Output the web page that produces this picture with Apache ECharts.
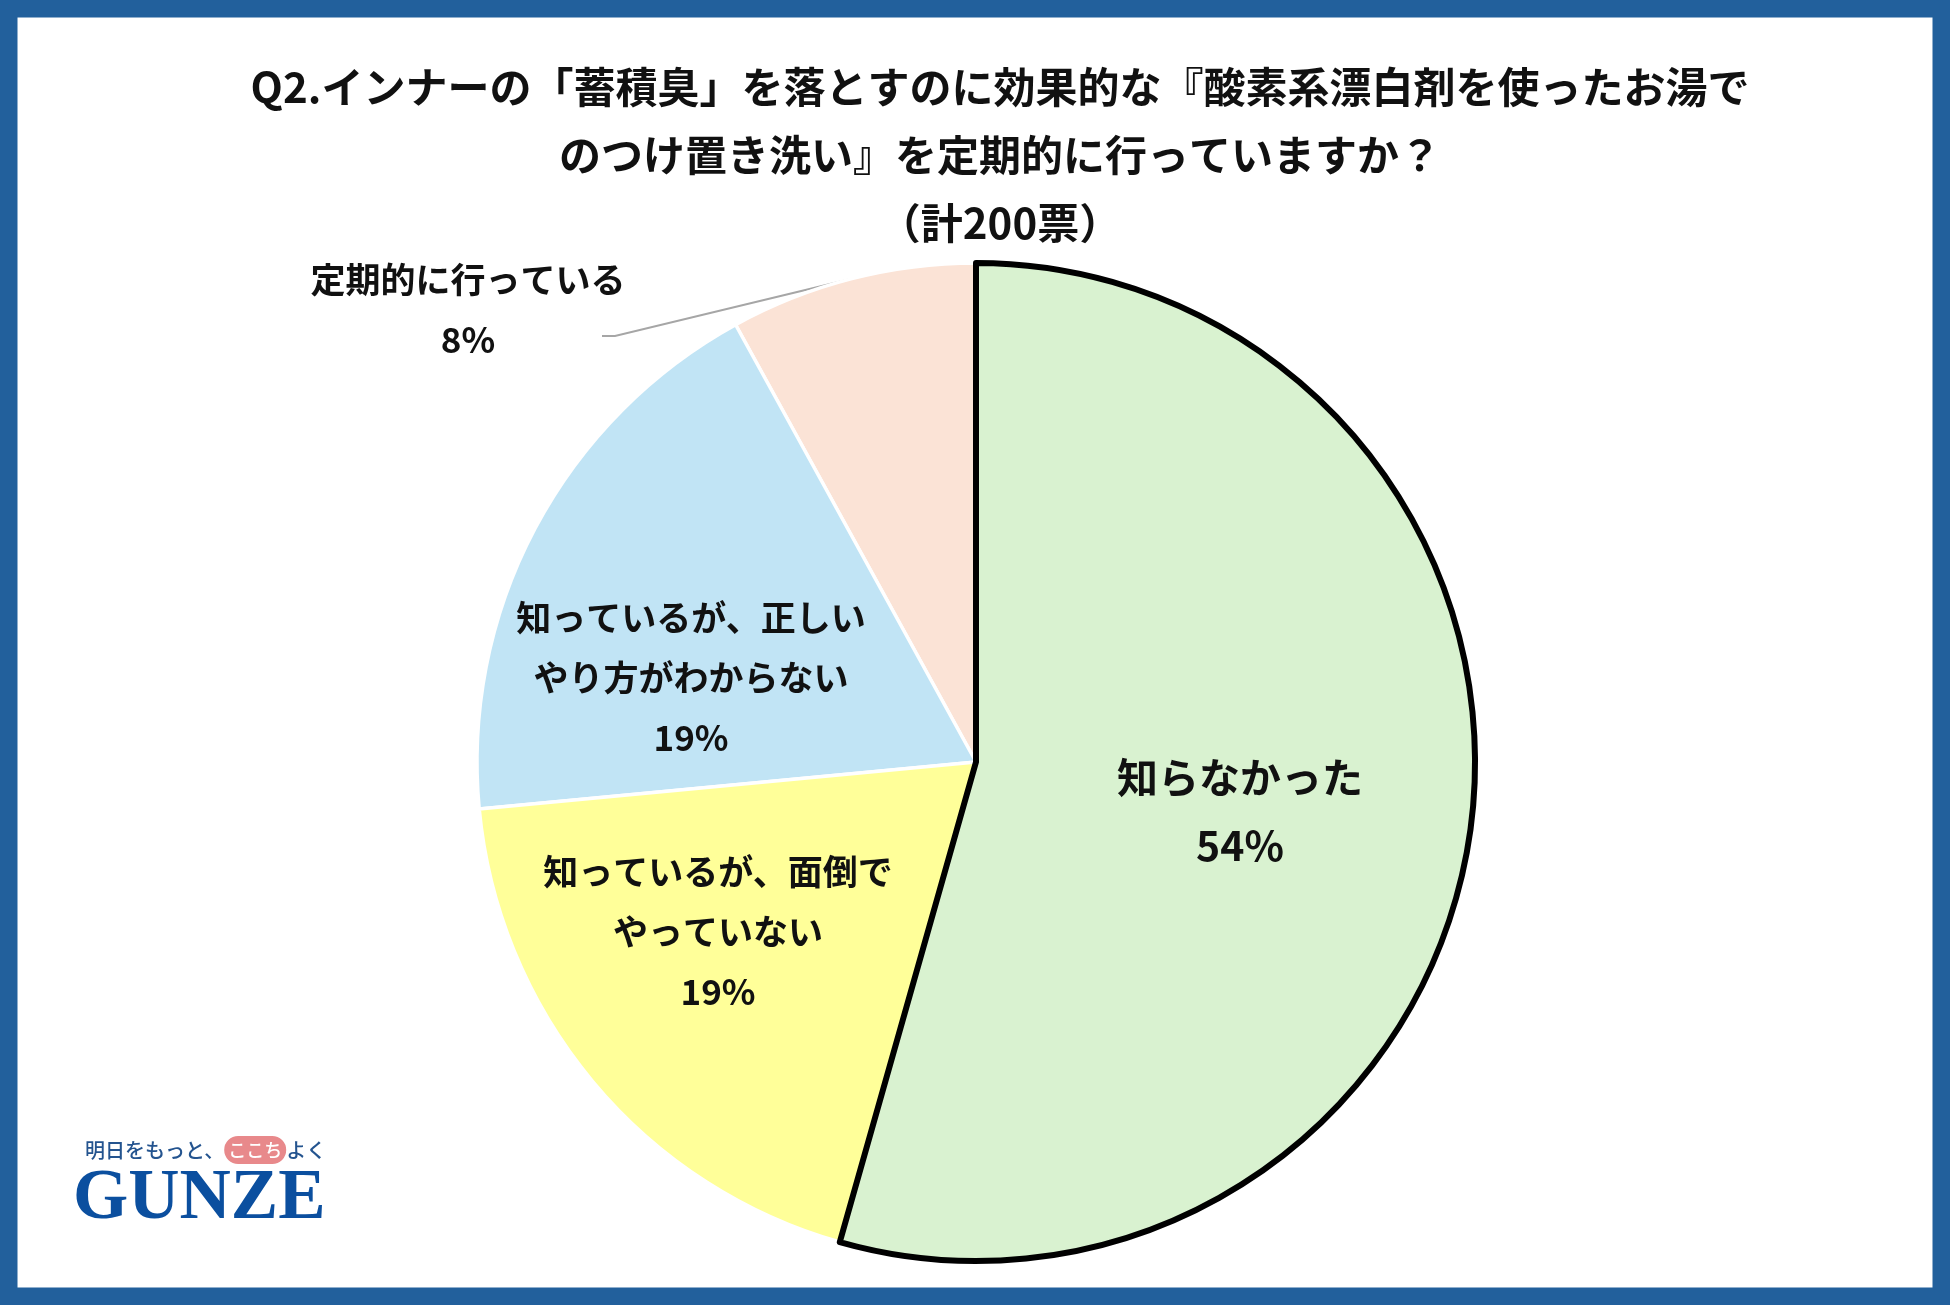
<!DOCTYPE html>
<html>
<head>
<meta charset="utf-8">
<script src="https://cdn.jsdelivr.net/npm/echarts@6/dist/echarts.min.js"></script>
<style>
  html, body { margin: 0; padding: 0; background: #fff; }
  #chart { width: 1950px; height: 1305px; }
</style>
</head>
<body>
<div id="chart"></div>
<script>
// data, in the order drawn counter-clockwise from 12 o'clock
const categories = [
  '定期的に行っている',
  '知っているが、正しい\nやり方がわからない',
  '知っているが、面倒で\nやっていない',
  '知らなかった'
]
// shares in %
const shares = [8.0, 18.5, 19.1, 54.4]
const sliceColors = ['#FBE3D6', '#C1E4F5', '#FFFF99', '#D9F2D0']
const titleLines = [
  'Q2.インナーの「蓄積臭」を落とすのに効果的な『酸素系漂白剤を使ったお湯で',
  'のつけ置き洗い』を定期的に行っていますか？',
  '（計200票）'
]

// label centres, as Excel placed them
const labelPos = [[468, 310], [691, 678], [718, 932], [1240, 811]]
const FONT = '"Noto Sans CJK JP", "Noto Sans CJK SC", sans-serif'

const chart = echarts.init(document.getElementById('chart'), null, { renderer: 'canvas' })

const pieData = categories.map((name, i) => {
  const big = i === 3
  return {
    name,
    value: shares[i],
    itemStyle: {
      color: sliceColors[i],
      borderColor: big ? '#000' : '#fff',
      borderWidth: big ? 6 : 3.5
    },
    label: {
      position: i === 0 ? 'outside' : 'inside',
      fontSize: big ? 41 : 35,
      lineHeight: big ? 68 : 60
    }
  }
})

const option = {
  animation: false,
  backgroundColor: '#fff',
  title: {
    text: titleLines.join('\n'),
    left: 995,
    top: 48,
    textAlign: 'center',
    textStyle: {
      fontFamily: FONT,
      fontSize: 42,
      fontWeight: 'bold',
      lineHeight: 68,
      color: '#111'
    }
  },
  series: [{
    type: 'pie',
    center: [976, 762],
    radius: 499,
    startAngle: 90,
    clockwise: false,
    avoidLabelOverlap: false,
    emphasis: { disabled: true },
    data: pieData,
    label: {
      color: '#111',
      fontFamily: FONT,
      fontWeight: 'bold',
      formatter: p => p.name + '\n' + Math.round(p.value) + '%'
    },
    labelLine: {
      show: true,
      lineStyle: { color: '#a6a6a6', width: 2 }
    },
    labelLayout: params => {
      const [x, y] = labelPos[params.dataIndex]
      const out = { x, y, align: 'center', verticalAlign: 'middle' }
      if (params.labelLinePoints) {
        const anchor = params.labelLinePoints[0]
        out.labelLinePoints = [anchor, [x + 147, y + 26], [x + 134, y + 26]]
      }
      return out
    }
  }],
  graphic: [
    {
      type: 'rect',
      silent: true,
      shape: { x: 8.75, y: 8.75, width: 1932.5, height: 1287.5 },
      style: { fill: 'none', stroke: '#22609C', lineWidth: 17.5 }
    },
    {
      type: 'text',
      silent: true,
      x: 85,
      y: 1150,
      style: {
        text: '{a|明日をもっと、}{b|ここち}{a|よく}',
        verticalAlign: 'middle',
        rich: {
          a: { fontFamily: FONT, fontSize: 20, fontWeight: 500, fill: '#24548F' },
          b: {
            fontFamily: FONT, fontSize: 18, fontWeight: 500, fill: '#fff',
            backgroundColor: '#E8898B', borderRadius: 15, padding: [5, 4, 5, 4]
          }
        }
      }
    },
    {
      type: 'text',
      silent: true,
      x: 73,
      y: 1200,
      style: {
        text: 'GUNZE',
        font: 'bold 71px "Liberation Serif", serif',
        fill: '#0B4F9F',
        verticalAlign: 'middle'
      }
    }
  ]
}

chart.setOption(option)
</script>
</body>
</html>
